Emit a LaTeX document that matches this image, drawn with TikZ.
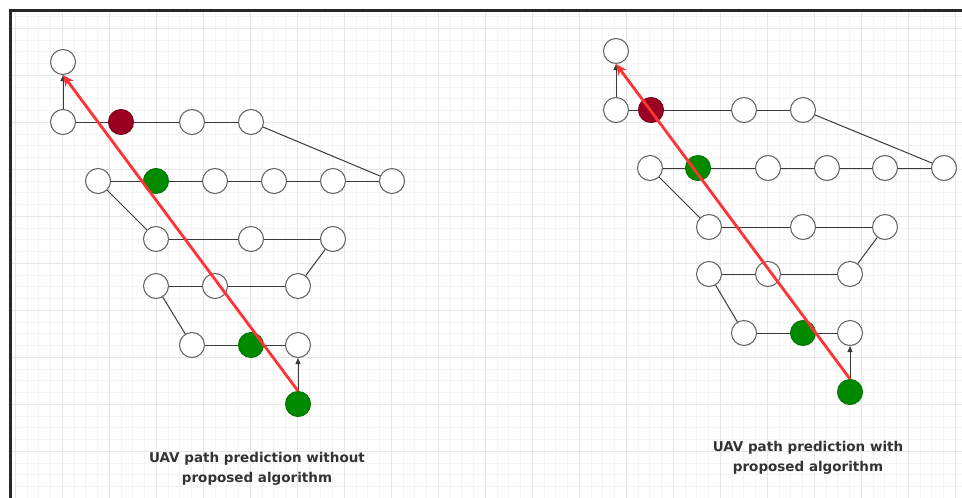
\documentclass[tikz,border=0pt]{standalone}
\usepackage{fontspec}
\newfontfamily\lblfont{DejaVu Sans}
\usetikzlibrary{arrows.meta}
\definecolor{gridminor}{HTML}{F4F4F4}
\definecolor{gridmajor}{HTML}{E6E6E6}
\definecolor{nodeline}{HTML}{606060}
\definecolor{edgecol}{HTML}{3A3A3A}
\definecolor{uavgreen}{HTML}{008A00}
\definecolor{uavred}{HTML}{990022}
\definecolor{patharrow}{HTML}{FF3333}
\begin{document}
\begin{tikzpicture}[x=1pt,y=-1pt,
  wp/.style={circle,draw=nodeline,fill=white,line width=1pt,minimum size=25pt,inner sep=0pt},
  gwp/.style={wp,fill=uavgreen,draw=uavgreen!85!black},
  rwp/.style={wp,fill=uavred,draw=uavred!80!black},
  link/.style={draw=edgecol,line width=1pt},
  mv/.style={link,-{Triangle[length=6pt,width=5pt]}},
  pred/.style={draw=patharrow,line width=2.8pt,-{Stealth[length=11pt,width=10pt]}},
  lbl/.style={font=\lblfont\bfseries\fontsize{13.5}{20}\selectfont,text=black!80,align=center}]
\useasboundingbox (0,0) rectangle (962,498);
\fill[white] (0,0) rectangle (962,498);
% grid
\foreach \k in {0,...,80} {\draw[gridminor,line width=0.5pt] ({15+\k*11.75},11) -- ({15+\k*11.75},498);}
\foreach \k in {0,...,40} {\draw[gridminor,line width=0.5pt] (11,{16.25+\k*11.75}) -- (962,{16.25+\k*11.75});}
\foreach \k in {0,...,20} {\draw[gridmajor,line width=0.7pt] ({15+\k*47},11) -- ({15+\k*47},498);}
\foreach \k in {0,...,10} {\draw[gridmajor,line width=0.7pt] (11,{28+\k*47}) -- (962,{28+\k*47});}
% frame
\draw[black!85,line width=2.6pt] (10.5,498) -- (10.5,10.5) -- (962,10.5);
% left diagram nodes
\node[wp] (a0) at (63,62) {};
\node[wp] (a1) at (63,122) {};
\node[rwp] (a2) at (121,122) {};
\node[wp] (a3) at (192,122) {};
\node[wp] (a4) at (251,122) {};
\node[wp] (b1) at (98,181) {};
\node[gwp] (b2) at (156,181) {};
\node[wp] (b3) at (215,181) {};
\node[wp] (b4) at (274,181) {};
\node[wp] (b5) at (333,181) {};
\node[wp] (b6) at (392,181) {};
\node[wp] (c1) at (156,239) {};
\node[wp] (c2) at (251,239) {};
\node[wp] (c3) at (333,239) {};
\node[wp] (d1) at (156,286) {};
\node[wp] (d2) at (215,286) {};
\node[wp] (d3) at (298,286) {};
\node[wp] (e1) at (192,345) {};
\node[gwp] (e2) at (251,345) {};
\node[wp] (e3) at (298,345) {};
\node[gwp] (s1) at (298,404) {};
% left links
\draw[link] (a1) -- (a2) -- (a3) -- (a4);
\draw[link] (a4) -- (b6);
\draw[link] (b1) -- (b2) -- (b3) -- (b4) -- (b5) -- (b6);
\draw[link] (b1) -- (c1);
\draw[link] (c1) -- (c2) -- (c3);
\draw[link] (c3) -- (d3);
\draw[link] (d1) -- (d2) -- (d3);
\draw[link] (d1) -- (e1);
\draw[link] (e1) -- (e2) -- (e3);
\draw[mv] (a1) -- (a0);
\draw[mv] (s1) -- (e3);
\draw[pred] (s1.north) -- (a0.south);
% right diagram nodes
\node[wp] (p0) at (616,51) {};
\node[wp] (p1) at (616,110) {};
\node[rwp] (p2) at (651,110) {};
\node[wp] (p3) at (744,110) {};
\node[wp] (p4) at (803,110) {};
\node[wp] (q1) at (650,168) {};
\node[gwp] (q2) at (698,168) {};
\node[wp] (q3) at (768,168) {};
\node[wp] (q4) at (827,168) {};
\node[wp] (q5) at (885,168) {};
\node[wp] (q6) at (944,168) {};
\node[wp] (r1) at (709,227) {};
\node[wp] (r2) at (803,227) {};
\node[wp] (r3) at (885,227) {};
\node[wp] (u1) at (709,274) {};
\node[wp] (u2) at (768,274) {};
\node[wp] (u3) at (850,274) {};
\node[wp] (v1) at (744,333) {};
\node[gwp] (v2) at (803,333) {};
\node[wp] (v3) at (850,333) {};
\node[gwp] (s2) at (850,392) {};
% right links
\draw[link] (p1) -- (p2) -- (p3) -- (p4);
\draw[link] (p4) -- (q6);
\draw[link] (q1) -- (q2) -- (q3) -- (q4) -- (q5) -- (q6);
\draw[link] (q1) -- (r1);
\draw[link] (r1) -- (r2) -- (r3);
\draw[link] (r3) -- (u3);
\draw[link] (u1) -- (u2) -- (u3);
\draw[link] (u1) -- (v1);
\draw[link] (v1) -- (v2) -- (v3);
\draw[mv] (p1) -- (p0);
\draw[mv] (s2) -- (v3);
\draw[pred] (s2.north) -- (p0.south);
% labels
\node[lbl] (t1) at (257,469) {UAV path prediction without\\proposed algorithm};
\node[lbl] (t2) at (808,458) {UAV path prediction with\\proposed algorithm};
\end{tikzpicture}
\end{document}
